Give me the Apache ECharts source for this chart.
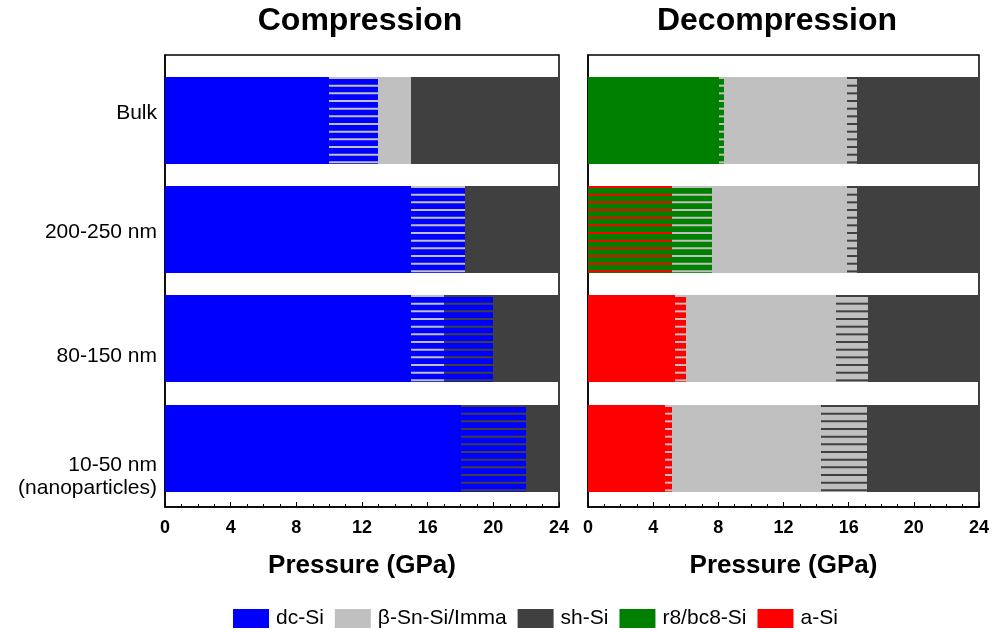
<!DOCTYPE html>
<html>
<head>
<meta charset="utf-8">
<script src="https://cdn.jsdelivr.net/npm/echarts@6/dist/echarts.min.js"></script>
<style>
  html, body { margin: 0; padding: 0; background: #fff; }
  #chart { width: 992px; height: 632px; }
</style>
</head>
<body>
<div id="chart"></div>
<script>
// Sample rows, bottom to top on the y axis (value 0..3)
const categories = ['10-50 nm\n(nanoparticles)', '80-150 nm', '200-250 nm', 'Bulk'];
// Where each row's label sits on the y axis
const rowLabelAt = [-0.26, 0.84, 1.98, 3.07];

const phases = ['dc-Si', 'β-Sn-Si/Imma', 'sh-Si', 'r8/bc8-Si', 'a-Si'];
const phaseColors = ['#0000FF', '#C0C0C0', '#404040', '#008000', '#FF0000'];

const pressureTicks = [0, 4, 8, 12, 16, 20, 24];

// Segments: [row, from GPa, to GPa, base phase, striped-with phase or null]
const compressionSegments = [
  [3, 0, 10, 'dc-Si', null],
  [3, 10, 13, 'dc-Si', 'β-Sn-Si/Imma'],
  [3, 13, 15, 'β-Sn-Si/Imma', null],
  [3, 15, 24, 'sh-Si', null],
  [2, 0, 15, 'dc-Si', null],
  [2, 15, 18.3, 'dc-Si', 'β-Sn-Si/Imma'],
  [2, 18.3, 24, 'sh-Si', null],
  [1, 0, 15, 'dc-Si', null],
  [1, 15, 17, 'dc-Si', 'β-Sn-Si/Imma'],
  [1, 17, 20, 'dc-Si', 'sh-Si'],
  [1, 20, 24, 'sh-Si', null],
  [0, 0, 18, 'dc-Si', null],
  [0, 18, 22, 'dc-Si', 'sh-Si'],
  [0, 22, 24, 'sh-Si', null]
];

const decompressionSegments = [
  [3, 0, 8.05, 'r8/bc8-Si', null],
  [3, 8.05, 8.35, 'r8/bc8-Si', 'β-Sn-Si/Imma'],
  [3, 8.35, 15.9, 'β-Sn-Si/Imma', null],
  [3, 15.9, 16.5, 'β-Sn-Si/Imma', 'sh-Si'],
  [3, 16.5, 24, 'sh-Si', null],
  [2, 0, 5.15, 'r8/bc8-Si', 'a-Si'],
  [2, 5.15, 7.6, 'r8/bc8-Si', 'β-Sn-Si/Imma'],
  [2, 7.6, 15.9, 'β-Sn-Si/Imma', null],
  [2, 15.9, 16.5, 'β-Sn-Si/Imma', 'sh-Si'],
  [2, 16.5, 24, 'sh-Si', null],
  [1, 0, 5.35, 'a-Si', null],
  [1, 5.35, 6.0, 'a-Si', 'β-Sn-Si/Imma'],
  [1, 6.0, 15.25, 'β-Sn-Si/Imma', null],
  [1, 15.25, 17.2, 'β-Sn-Si/Imma', 'sh-Si'],
  [1, 17.2, 24, 'sh-Si', null],
  [0, 0, 4.75, 'a-Si', null],
  [0, 4.75, 5.15, 'a-Si', 'β-Sn-Si/Imma'],
  [0, 5.15, 14.3, 'β-Sn-Si/Imma', null],
  [0, 14.3, 17.1, 'β-Sn-Si/Imma', 'sh-Si'],
  [0, 17.1, 24, 'sh-Si', null]
];

// Drawing constants
const FONT = '"Liberation Sans", Arial, Helvetica, sans-serif';
const BAR_HEIGHT = 0.8;     // in row units
const STRIPE_PERIOD = 7.67; // px
const STRIPE_WIDTH = 2;     // px

function toSeriesData(segments) {
  return segments.map(s => [
    s[0], s[1], s[2],
    phases.indexOf(s[3]),
    s[4] === null ? -1 : phases.indexOf(s[4])
  ]);
}

function renderSegment(params, api) {
  const row = api.value(0);
  const p0 = api.coord([api.value(1), row]);
  const p1 = api.coord([api.value(2), row]);
  const base = api.value(3);
  const stripe = api.value(4);
  const h = api.size([0, BAR_HEIGHT])[1];
  const top = Math.round(p0[1] - h / 2);
  const bh = Math.round(h);
  const x0 = Math.round(p0[0]);
  const x1 = Math.round(p1[0]);
  const children = [{
    type: 'rect',
    shape: { x: x0, y: top, width: x1 - x0, height: bh },
    style: { fill: phaseColors[base] }
  }];
  if (stripe >= 0) {
    for (let y = top; y < top + bh - 0.5; y += STRIPE_PERIOD) {
      children.push({
        type: 'rect',
        shape: { x: x0, y: y, width: x1 - x0, height: Math.min(STRIPE_WIDTH, top + bh - y) },
        style: { fill: phaseColors[stripe] }
      });
    }
  }
  return { type: 'group', children: children };
}

function makeXAxis(gridIndex) {
  return {
    type: 'value',
    gridIndex: gridIndex,
    min: pressureTicks[0],
    max: pressureTicks[pressureTicks.length - 1],
    interval: pressureTicks[1] - pressureTicks[0],
    name: 'Pressure (GPa)',
    nameLocation: 'middle',
    nameGap: 46,
    nameTextStyle: { fontFamily: FONT, fontSize: 26, fontWeight: 'bold', color: '#000' },
    axisLine: { show: true, onZero: false, lineStyle: { color: '#000', width: 1.5 } },
    axisTick: { show: true, inside: true, length: 5, lineStyle: { color: '#000', width: 1 } },
    minorTick: { show: true, splitNumber: 4, length: 3, lineStyle: { color: '#000', width: 1 } },
    splitLine: { show: false },
    axisLabel: { fontFamily: FONT, fontSize: 18, fontWeight: 'bold', color: '#000', margin: 12 }
  };
}

function makeYAxis(gridIndex, withLabels) {
  return {
    type: 'value',
    gridIndex: gridIndex,
    min: -0.535,
    max: 3.6,
    axisLine: { show: true, onZero: false, lineStyle: { color: '#000', width: 1.5 } },
    axisTick: { show: false },
    splitLine: { show: false },
    axisLabel: {
      show: withLabels,
      customValues: rowLabelAt,
      margin: 8,
      fontFamily: FONT,
      fontSize: 21,
      color: '#000',
      lineHeight: 23,
      align: 'right',
      formatter: function (value) {
        let best = 0;
        rowLabelAt.forEach((v, i) => {
          if (Math.abs(v - value) < Math.abs(rowLabelAt[best] - value)) best = i;
        });
        return categories[best];
      }
    }
  };
}

const chart = echarts.init(document.getElementById('chart'), null, { renderer: 'canvas' });

const legendSeries = phases.map((name, i) => ({
  type: 'scatter',
  name: name,
  data: [],
  itemStyle: { color: phaseColors[i], opacity: 1 }
}));

chart.setOption({
  animation: false,
  backgroundColor: '#fff',
  graphic: [
    { type: 'text', x: 360, y: 21, style: { text: 'Compression', font: 'bold 32px ' + FONT, fill: '#000', textAlign: 'center', textVerticalAlign: 'middle' } },
    { type: 'text', x: 777, y: 21, style: { text: 'Decompression', font: 'bold 32px ' + FONT, fill: '#000', textAlign: 'center', textVerticalAlign: 'middle' } }
  ],
  grid: [
    { left: 165, top: 55, width: 394, height: 452, show: true, borderColor: '#000', borderWidth: 1.5, backgroundColor: 'transparent' },
    { left: 588, top: 55, width: 394, height: 452, show: true, borderColor: '#000', borderWidth: 1.5, backgroundColor: 'transparent' }
  ],
  xAxis: [makeXAxis(0), makeXAxis(1)],
  yAxis: [makeYAxis(0, true), makeYAxis(1, false)],
  legend: {
    left: 233,
    top: 608,
    padding: 0,
    itemWidth: 36,
    itemHeight: 19,
    itemGap: 11,
    icon: 'rect',
    selectedMode: false,
    textStyle: { fontFamily: FONT, fontSize: 21, color: '#000', padding: [0, 0, 0, 2] },
    data: phases
  },
  series: [
    {
      type: 'custom',
      name: 'Compression',
      xAxisIndex: 0,
      yAxisIndex: 0,
      renderItem: renderSegment,
      encode: { x: [1, 2], y: 0 },
      data: toSeriesData(compressionSegments),
      z: 1
    },
    {
      type: 'custom',
      name: 'Decompression',
      xAxisIndex: 1,
      yAxisIndex: 1,
      renderItem: renderSegment,
      encode: { x: [1, 2], y: 0 },
      data: toSeriesData(decompressionSegments),
      z: 1
    }
  ].concat(legendSeries)
});
</script>
</body>
</html>
